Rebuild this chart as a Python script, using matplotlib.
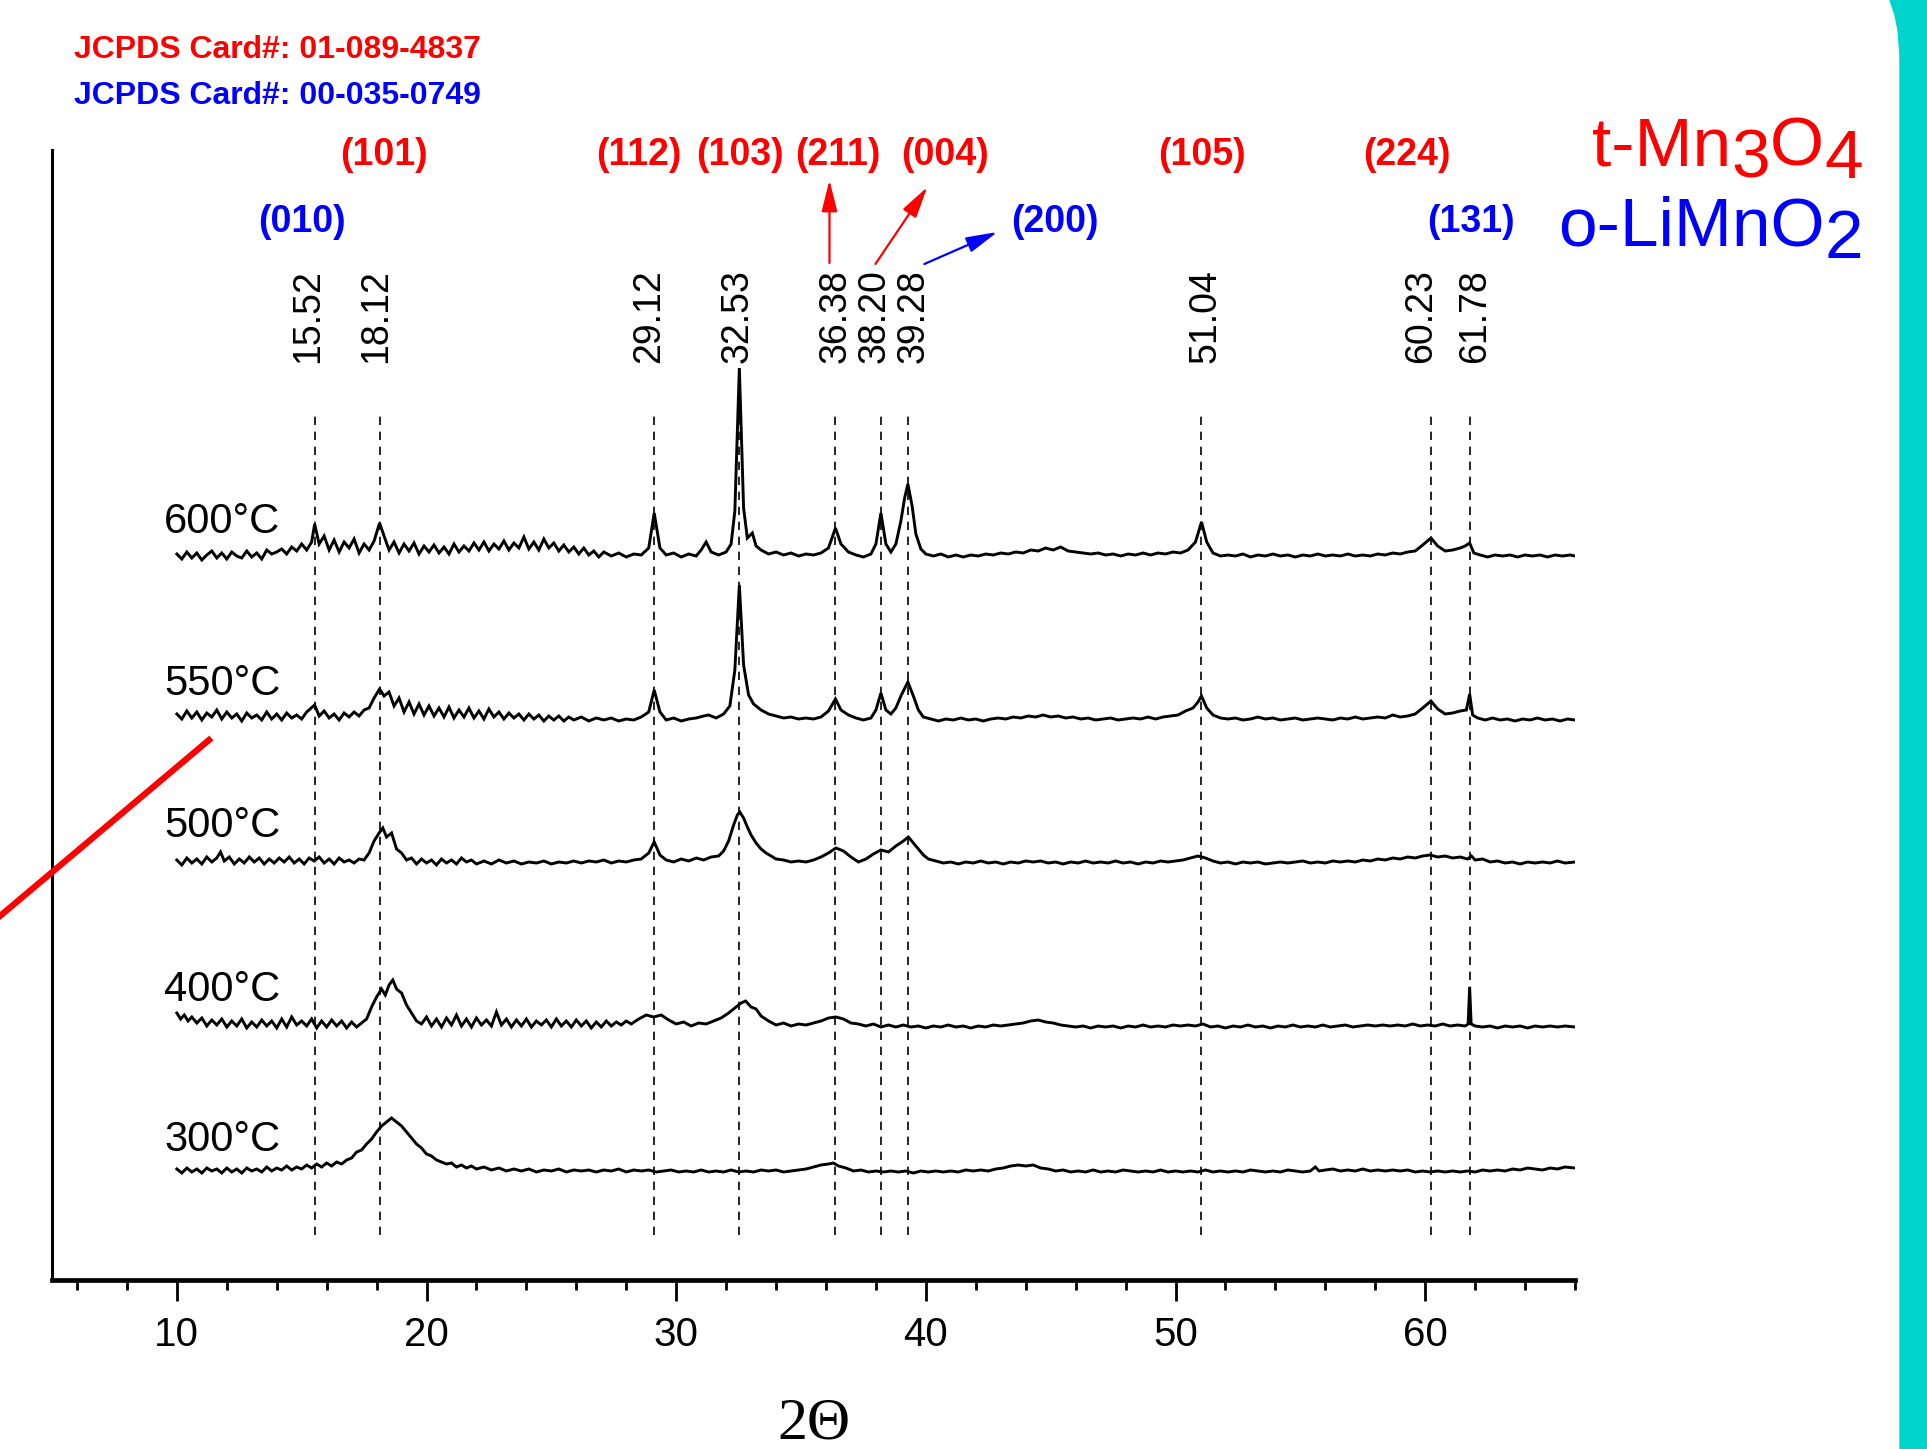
import numpy as np
import matplotlib.pyplot as plt
from matplotlib.patches import Polygon
from matplotlib.lines import Line2D
from matplotlib.ticker import MultipleLocator

plt.rcParams['font.family'] = ['Liberation Sans', 'DejaVu Sans']

# stacked XRD patterns: (2theta, height above the trace's own baseline)
t300 = [(10.0, 3), (10.2, -1), (10.4, 4), (10.6, 0), (10.8, 3), (11.0, -1), (11.2, 4), (11.4, 1), (11.6, 3),
        (11.8, -1), (12.0, 4), (12.2, 0), (12.4, 3), (12.6, -1), (12.8, 4), (13.0, 1), (13.2, 3), (13.4, 0),
        (13.6, 5), (13.8, 1), (14.0, 4), (14.2, 2), (14.4, 6), (14.6, 2), (14.8, 5), (15.0, 3), (15.2, 7),
        (15.4, 4), (15.6, 8), (15.8, 5), (16.0, 9), (16.2, 6), (16.4, 10), (16.6, 8), (16.8, 12), (17.0, 14),
        (17.2, 20), (17.4, 22), (17.6, 28), (17.8, 33), (18.0, 40), (18.2, 46), (18.4, 50), (18.6, 54),
        (18.8, 50), (19.0, 46), (19.2, 40), (19.4, 34), (19.6, 28), (19.8, 24), (20.0, 18), (20.2, 16),
        (20.4, 12), (20.6, 10), (20.8, 8), (21.0, 9), (21.2, 5), (21.4, 7), (21.6, 4), (21.8, 6), (22.0, 3),
        (22.3, 5), (22.6, 2), (22.9, 4), (23.2, 1), (23.5, 3), (23.8, 1), (24.1, 3), (24.4, 0), (24.7, 2),
        (25.0, 1), (25.3, 3), (25.6, 0), (25.9, 2), (26.2, 1), (26.5, 2), (26.8, 0), (27.1, 2), (27.4, 1),
        (27.7, 3), (28.0, 0), (28.3, 2), (28.6, 1), (28.9, 2), (29.2, 0), (29.5, 1), (29.8, 2), (30.1, 0),
        (30.4, 1), (30.7, 0), (31.0, 2), (31.3, 0), (31.6, 1), (31.9, 0), (32.2, 2), (32.5, 0), (32.8, 1),
        (33.1, 0), (33.4, 2), (33.7, 1), (34.0, 2), (34.3, 0), (34.6, 1), (34.9, 2), (35.2, 3), (35.5, 5),
        (35.8, 7), (36.1, 8), (36.3, 9), (36.5, 6), (36.8, 4), (37.1, 1), (37.4, 2), (37.7, 0), (38.0, 1),
        (38.3, 0), (38.6, 1), (38.9, 0), (39.2, 1), (39.5, -1), (39.8, 1), (40.1, 0), (40.4, 1), (40.7, 0),
        (41.0, 1), (41.3, 0), (41.6, 2), (41.9, 1), (42.2, 2), (42.5, 1), (42.8, 3), (43.1, 4), (43.4, 6),
        (43.7, 7), (44.0, 6), (44.3, 7), (44.6, 4), (44.9, 3), (45.2, 1), (45.5, 2), (45.8, 0), (46.1, 1),
        (46.4, 0), (46.7, 2), (47.0, 0), (47.3, 1), (47.6, 0), (47.9, 2), (48.2, 1), (48.5, 0), (48.8, 1),
        (49.1, 0), (49.4, 2), (49.7, 0), (50.0, 1), (50.3, 0), (50.6, 1), (50.9, 0), (51.2, 2), (51.5, 0),
        (51.8, 1), (52.1, 0), (52.4, 1), (52.7, 0), (53.0, 2), (53.3, 1), (53.6, 0), (53.9, 1), (54.2, 0),
        (54.5, 2), (54.8, 1), (55.1, 0), (55.4, 1), (55.6, 5), (55.75, 1), (56.0, 2), (56.3, 3), (56.6, 1),
        (56.9, 2), (57.2, 1), (57.5, 3), (57.8, 1), (58.1, 2), (58.4, 1), (58.7, 2), (59.0, 1), (59.3, 2),
        (59.6, 0), (59.9, 1), (60.2, 0), (60.5, 1), (60.8, 0), (61.1, 1), (61.4, 0), (61.7, 1), (62.0, 0),
        (62.3, 2), (62.6, 1), (62.9, 2), (63.2, 1), (63.5, 3), (63.8, 2), (64.1, 4), (64.4, 3), (64.7, 2),
        (65.0, 4), (65.3, 3), (65.6, 5), (66.0, 4)]

t400 = [(10.0, 14), (10.15, 8), (10.3, 12), (10.45, 6), (10.6, 10), (10.8, 4), (11.0, 9), (11.2, 1), (11.4, 7),
        (11.6, 2), (11.8, 8), (12.0, 0), (12.2, 6), (12.4, 1), (12.6, 8), (12.8, -1), (13.0, 5), (13.2, 0),
        (13.4, 7), (13.6, 1), (13.8, 6), (14.0, -1), (14.2, 8), (14.4, 0), (14.6, 10), (14.8, 2), (15.0, 6),
        (15.2, 1), (15.4, 8), (15.6, -1), (15.8, 6), (16.0, 0), (16.2, 7), (16.4, 1), (16.6, 6), (16.8, -1),
        (17.0, 5), (17.2, 0), (17.4, 4), (17.6, 8), (17.8, 20), (18.0, 30), (18.2, 38), (18.35, 32),
        (18.5, 42), (18.65, 47), (18.8, 38), (19.0, 34), (19.2, 22), (19.4, 14), (19.6, 6), (19.8, 3),
        (20.0, 10), (20.2, 1), (20.4, 8), (20.6, 0), (20.8, 9), (21.0, 2), (21.2, 12), (21.4, 1), (21.6, 8),
        (21.8, 0), (22.0, 9), (22.2, 2), (22.4, 7), (22.6, 1), (22.8, 15), (23.0, 2), (23.2, 8), (23.4, 0),
        (23.6, 7), (23.8, 1), (24.0, 8), (24.2, 0), (24.4, 6), (24.6, 2), (24.8, 7), (25.0, 0), (25.2, 8),
        (25.4, 1), (25.6, 6), (25.8, 0), (26.0, 7), (26.2, 1), (26.4, 6), (26.6, -1), (26.8, 5), (27.0, 0),
        (27.2, 6), (27.4, 1), (27.6, 5), (27.8, 2), (28.0, 6), (28.2, 3), (28.5, 8), (28.8, 12), (29.1, 10),
        (29.4, 12), (29.7, 7), (30.0, 3), (30.3, 5), (30.6, 1), (30.9, 4), (31.2, 3), (31.5, 6), (31.8, 9),
        (32.1, 14), (32.4, 20), (32.6, 24), (32.78, 26), (33.0, 20), (33.2, 18), (33.4, 11), (33.7, 6),
        (34.0, 2), (34.3, 4), (34.6, 1), (34.9, 3), (35.2, 2), (35.5, 4), (35.8, 6), (36.1, 9), (36.4, 10),
        (36.7, 8), (37.0, 4), (37.3, 3), (37.6, 1), (37.9, 3), (38.2, 0), (38.5, 2), (38.8, 0), (39.1, 2),
        (39.4, 0), (39.7, 1), (40.0, -1), (40.3, 1), (40.6, 0), (40.9, 2), (41.2, 0), (41.5, 1), (41.8, -1),
        (42.1, 1), (42.4, 0), (42.7, 2), (43.0, 1), (43.3, 2), (43.6, 3), (43.9, 4), (44.2, 6), (44.5, 7),
        (44.8, 5), (45.1, 4), (45.4, 2), (45.7, 1), (46.0, 0), (46.3, 1), (46.6, -1), (46.9, 1), (47.2, 0),
        (47.5, 1), (47.8, -1), (48.1, 1), (48.4, 0), (48.7, 2), (49.0, 0), (49.3, 1), (49.6, 0), (49.9, 2),
        (50.2, 1), (50.5, 2), (50.8, 1), (51.1, 3), (51.4, 0), (51.7, 1), (52.0, -1), (52.3, 1), (52.6, 0),
        (52.9, 2), (53.2, 0), (53.5, 1), (53.8, -1), (54.1, 1), (54.4, 0), (54.7, 2), (55.0, 0), (55.3, 1),
        (55.6, 0), (55.9, 2), (56.2, 0), (56.5, 1), (56.8, 2), (57.1, 0), (57.4, 1), (57.7, 2), (58.0, 1),
        (58.3, 2), (58.6, 1), (58.9, 2), (59.2, 1), (59.5, 3), (59.8, 1), (60.1, 2), (60.4, 1), (60.7, 3),
        (61.0, 1), (61.3, 2), (61.6, 1), (61.72, 3), (61.78, 40), (61.84, 3), (62.0, 1), (62.3, 0), (62.6, 1),
        (62.9, -1), (63.2, 1), (63.5, 0), (63.8, 1), (64.1, -1), (64.4, 1), (64.7, 0), (65.0, 1), (65.3, 0),
        (65.6, 1), (66.0, 0)]

t500 = [(10.0, 3), (10.2, -2), (10.4, 5), (10.6, 0), (10.8, 4), (11.0, -1), (11.2, 6), (11.4, 1), (11.6, 5),
        (11.75, 11), (11.9, 2), (12.1, 6), (12.3, -1), (12.5, 4), (12.7, 0), (12.9, 6), (13.1, 1), (13.3, 5),
        (13.5, -1), (13.7, 4), (13.9, 0), (14.1, 5), (14.3, 1), (14.5, 6), (14.7, 0), (14.9, 4), (15.1, -1),
        (15.3, 5), (15.5, 2), (15.7, 6), (15.9, 0), (16.1, 4), (16.3, -1), (16.5, 5), (16.7, 1), (16.9, 3),
        (17.1, 0), (17.3, 4), (17.5, 3), (17.7, 10), (17.9, 22), (18.1, 30), (18.25, 35), (18.4, 26),
        (18.6, 30), (18.8, 14), (19.0, 10), (19.2, 3), (19.4, 5), (19.6, -1), (19.8, 4), (20.0, 0), (20.2, 3),
        (20.4, -2), (20.6, 4), (20.8, 0), (21.0, 3), (21.2, -1), (21.4, 5), (21.6, 1), (21.8, 3), (22.0, -1),
        (22.3, 2), (22.6, -1), (22.9, 3), (23.2, 0), (23.5, 2), (23.8, -1), (24.1, 1), (24.4, 0), (24.7, 2),
        (25.0, -1), (25.3, 1), (25.6, 0), (25.9, 2), (26.2, 0), (26.5, 2), (26.8, 1), (27.1, 3), (27.4, 0),
        (27.7, 2), (28.0, 1), (28.3, 3), (28.6, 4), (28.9, 10), (29.12, 21), (29.35, 8), (29.6, 3), (29.9, 1),
        (30.2, 4), (30.5, 2), (30.8, 5), (31.1, 3), (31.4, 6), (31.7, 7), (31.9, 12), (32.1, 22), (32.3, 38),
        (32.45, 48), (32.55, 51), (32.7, 45), (32.85, 36), (33.0, 28), (33.2, 20), (33.4, 14), (33.6, 10),
        (33.8, 7), (34.0, 4), (34.3, 3), (34.6, 1), (34.9, 2), (35.2, 1), (35.5, 3), (35.8, 6), (36.1, 10),
        (36.4, 15), (36.7, 12), (37.0, 6), (37.3, 1), (37.6, 4), (37.9, 9), (38.2, 13), (38.5, 11), (38.8, 17),
        (39.1, 22), (39.3, 26), (39.5, 20), (39.7, 14), (39.9, 8), (40.1, 4), (40.4, 2), (40.7, 0), (41.0, 1),
        (41.3, -1), (41.6, 1), (41.9, 0), (42.2, 2), (42.5, 0), (42.8, 1), (43.1, -1), (43.4, 1), (43.7, 0),
        (44.0, 2), (44.3, 1), (44.6, 2), (44.9, 0), (45.2, 1), (45.5, -1), (45.8, 1), (46.1, 0), (46.4, 2),
        (46.7, 0), (47.0, 1), (47.3, 0), (47.6, 2), (47.9, 0), (48.2, 1), (48.5, -1), (48.8, 1), (49.1, 0),
        (49.4, 2), (49.7, 1), (50.0, 2), (50.3, 3), (50.6, 5), (50.9, 7), (51.2, 5), (51.5, 2), (51.8, 0),
        (52.1, 1), (52.4, -1), (52.7, 1), (53.0, 0), (53.3, 1), (53.6, -1), (53.9, 0), (54.2, 1), (54.5, 0),
        (54.8, 1), (55.1, 2), (55.4, 0), (55.7, 1), (56.0, 0), (56.3, 2), (56.6, 1), (56.9, 2), (57.2, 1),
        (57.5, 3), (57.8, 2), (58.1, 4), (58.4, 3), (58.7, 5), (59.0, 4), (59.3, 6), (59.6, 5), (59.9, 7),
        (60.2, 8), (60.5, 6), (60.8, 7), (61.1, 5), (61.4, 6), (61.7, 4), (61.85, 7), (62.0, 3), (62.3, 4),
        (62.6, 1), (62.9, 2), (63.2, 0), (63.5, 1), (63.8, -1), (64.1, 1), (64.4, 0), (64.7, 1), (65.0, 0),
        (65.3, 2), (65.6, 0), (66.0, 1)]

t550 = [(10.0, 6), (10.2, 1), (10.4, 9), (10.6, 2), (10.8, 8), (11.0, 0), (11.2, 7), (11.4, 3), (11.6, 10),
        (11.8, 1), (12.0, 8), (12.2, 2), (12.4, 6), (12.6, -1), (12.8, 7), (13.0, 2), (13.2, 5), (13.4, 0),
        (13.6, 8), (13.8, 1), (14.0, 6), (14.2, 0), (14.4, 7), (14.6, 2), (14.8, 5), (15.0, 1), (15.2, 8),
        (15.52, 15), (15.7, 4), (15.9, 9), (16.1, 2), (16.3, 6), (16.5, 0), (16.7, 7), (16.9, 3), (17.1, 8),
        (17.3, 4), (17.5, 10), (17.7, 12), (17.9, 22), (18.12, 31), (18.3, 24), (18.5, 28), (18.7, 14),
        (18.9, 22), (19.1, 8), (19.3, 18), (19.5, 6), (19.7, 16), (19.9, 5), (20.1, 14), (20.3, 4), (20.5, 12),
        (20.7, 3), (20.9, 13), (21.1, 2), (21.3, 10), (21.5, 3), (21.7, 12), (21.9, 2), (22.1, 9), (22.3, 1),
        (22.5, 11), (22.7, 3), (22.9, 8), (23.1, 1), (23.3, 7), (23.5, 2), (23.7, 6), (23.9, 0), (24.1, 6),
        (24.3, 1), (24.5, 5), (24.7, -1), (24.9, 4), (25.1, 0), (25.3, 4), (25.5, -1), (25.7, 3), (25.9, 0),
        (26.2, 3), (26.5, -1), (26.8, 2), (27.1, 0), (27.4, 2), (27.7, -1), (28.0, 1), (28.3, 0), (28.6, 3),
        (28.9, 8), (29.12, 30), (29.35, 8), (29.6, 0), (29.9, 2), (30.2, -1), (30.5, 1), (30.8, 2), (31.1, 4),
        (31.3, 5), (31.6, 2), (31.9, 6), (32.15, 14), (32.35, 50), (32.53, 135), (32.7, 55), (32.9, 25),
        (33.1, 16), (33.4, 10), (33.7, 6), (34.0, 4), (34.3, 2), (34.6, 3), (34.9, 1), (35.2, 2), (35.5, 1),
        (35.8, 3), (36.1, 9), (36.38, 21), (36.6, 10), (36.9, 5), (37.2, 2), (37.5, 0), (37.8, 2), (38.0, 10),
        (38.2, 27), (38.4, 10), (38.6, 6), (38.8, 12), (39.0, 24), (39.28, 38), (39.5, 24), (39.7, 10),
        (39.9, 3), (40.2, 1), (40.5, -1), (40.8, 1), (41.1, 0), (41.4, 2), (41.7, 0), (42.0, 1), (42.3, -1),
        (42.6, 1), (42.9, 2), (43.2, 1), (43.5, 3), (43.8, 2), (44.1, 4), (44.4, 3), (44.7, 5), (45.0, 3),
        (45.3, 4), (45.6, 2), (45.9, 3), (46.2, 1), (46.5, 2), (46.8, 0), (47.1, 1), (47.4, 2), (47.7, 0),
        (48.0, 1), (48.3, 2), (48.6, 1), (48.9, 3), (49.2, 1), (49.5, 3), (49.8, 4), (50.1, 5), (50.4, 9),
        (50.7, 12), (50.9, 18), (51.04, 24), (51.25, 12), (51.5, 5), (51.8, 2), (52.1, 1), (52.4, 2),
        (52.7, 0), (53.0, 1), (53.3, 3), (53.6, 1), (53.9, 2), (54.2, 0), (54.5, 1), (54.8, 2), (55.1, 0),
        (55.4, 1), (55.7, 2), (56.0, 1), (56.3, 0), (56.6, 2), (56.9, 1), (57.2, 3), (57.5, 1), (57.8, 2),
        (58.1, 3), (58.4, 2), (58.7, 5), (59.0, 3), (59.3, 4), (59.6, 6), (59.9, 12), (60.23, 19), (60.5, 11),
        (60.8, 6), (61.1, 7), (61.4, 9), (61.65, 10), (61.78, 26), (61.9, 5), (62.1, 2), (62.4, 0), (62.7, 2),
        (63.0, 0), (63.3, 1), (63.6, -1), (63.9, 1), (64.2, 0), (64.5, 2), (64.8, 0), (65.1, 1), (65.4, -1),
        (65.7, 1), (66.0, 0)]

t600 = [(10.0, 2), (10.2, -3), (10.4, 4), (10.6, -2), (10.8, 3), (11.0, -4), (11.2, 1), (11.4, 5), (11.6, -2),
        (11.8, 3), (12.0, -3), (12.2, 4), (12.4, 0), (12.6, -2), (12.8, 5), (13.0, -1), (13.2, 3), (13.4, -3),
        (13.6, 6), (13.8, 2), (14.0, 4), (14.2, 7), (14.4, 2), (14.6, 9), (14.8, 5), (15.0, 12), (15.2, 6),
        (15.4, 14), (15.52, 32), (15.7, 12), (15.9, 20), (16.1, 6), (16.3, 16), (16.5, 4), (16.7, 14),
        (16.9, 8), (17.1, 17), (17.3, 3), (17.5, 12), (17.7, 6), (17.9, 15), (18.12, 33), (18.3, 20),
        (18.5, 6), (18.7, 14), (18.9, 3), (19.1, 12), (19.3, 5), (19.5, 13), (19.7, 2), (19.9, 10), (20.1, 4),
        (20.3, 11), (20.5, 3), (20.7, 9), (20.9, 2), (21.1, 12), (21.3, 4), (21.5, 10), (21.7, 5), (21.9, 13),
        (22.1, 6), (22.3, 14), (22.5, 5), (22.7, 12), (22.9, 7), (23.1, 15), (23.3, 6), (23.5, 13), (23.7, 8),
        (23.9, 19), (24.1, 7), (24.3, 14), (24.5, 6), (24.7, 17), (24.9, 8), (25.1, 13), (25.3, 5), (25.5, 11),
        (25.7, 4), (25.9, 9), (26.1, 2), (26.3, 8), (26.5, 1), (26.7, 5), (26.9, -1), (27.1, 4), (27.4, 0),
        (27.7, 3), (28.0, -1), (28.3, 2), (28.6, 1), (28.9, 8), (29.12, 43), (29.35, 8), (29.6, 1), (29.9, 3),
        (30.2, -1), (30.5, 2), (30.8, 0), (31.0, 6), (31.2, 14), (31.4, 4), (31.7, 1), (32.0, 4), (32.2, 12),
        (32.35, 45), (32.53, 188), (32.7, 48), (32.85, 18), (33.05, 23), (33.2, 10), (33.4, 6), (33.7, 2),
        (34.0, 4), (34.3, 1), (34.6, 3), (34.9, 0), (35.2, 2), (35.5, 1), (35.8, 3), (36.1, 8), (36.38, 28),
        (36.6, 12), (36.9, 4), (37.2, 1), (37.5, -1), (37.8, 2), (38.0, 12), (38.2, 43), (38.4, 12), (38.6, 4),
        (38.8, 12), (39.0, 35), (39.15, 58), (39.28, 72), (39.45, 50), (39.6, 22), (39.8, 7), (40.0, 2),
        (40.3, 0), (40.6, 2), (40.9, -1), (41.2, 1), (41.5, -1), (41.8, 1), (42.1, 0), (42.4, 2), (42.7, 1),
        (43.0, 3), (43.3, 2), (43.6, 4), (43.9, 3), (44.2, 6), (44.5, 5), (44.8, 8), (45.1, 6), (45.4, 9),
        (45.7, 5), (46.0, 4), (46.3, 3), (46.6, 2), (46.9, 3), (47.2, 1), (47.5, 2), (47.8, 0), (48.1, 2),
        (48.4, 1), (48.7, 3), (49.0, 1), (49.3, 3), (49.6, 2), (49.9, 4), (50.2, 3), (50.5, 6), (50.8, 14),
        (51.04, 34), (51.25, 14), (51.5, 3), (51.8, 0), (52.1, 1), (52.4, 0), (52.7, 2), (53.0, -1), (53.3, 1),
        (53.6, 0), (53.9, 2), (54.2, 0), (54.5, 1), (54.8, -1), (55.1, 1), (55.4, 0), (55.7, 2), (56.0, 0),
        (56.3, 1), (56.6, 0), (56.9, 2), (57.2, 0), (57.5, 1), (57.8, 0), (58.1, 2), (58.4, 1), (58.7, 3),
        (59.0, 2), (59.3, 4), (59.6, 5), (59.9, 11), (60.23, 18), (60.5, 10), (60.8, 5), (61.1, 6), (61.4, 8),
        (61.6, 10), (61.78, 13), (61.95, 3), (62.2, 1), (62.5, -1), (62.8, 1), (63.1, 0), (63.4, 1), (63.7, -1),
        (64.0, 1), (64.3, 0), (64.6, 1), (64.9, -1), (65.2, 1), (65.5, 0), (65.8, 1), (66.0, 0)]

traces = [t300, t400, t500, t550, t600]
temps = ['300°C', '400°C', '500°C', '550°C', '600°C']
offsets = [108, 253, 417, 560, 724]
temp_label_y = [129, 279, 443, 585, 747]

peaks = [15.52, 18.12, 29.12, 32.53, 36.38, 38.20, 39.28, 51.04, 60.23, 61.78]
peak_label_x = [15.26, 18.0, 28.9, 32.46, 36.38, 37.94, 39.52, 51.22, 59.84, 61.98]

red_hkl = ['(101)', '(112)', '(103)', '(211)', '(004)', '(105)', '(224)']
red_x = [18.29, 28.5, 32.54, 36.46, 40.78, 51.07, 59.28]
blue_hkl = ['(010)', '(200)', '(131)']
blue_x = [15.0, 45.15, 61.84]

W, H = 1927, 1449
fig = plt.figure(figsize=(W / 100, H / 100), dpi=100)
fig.patch.set_facecolor('white')
ax = fig.add_axes([52 / W, 1 - 1280 / H, (1575 - 52) / W, (1280 - 150) / H])

for pts, off in zip(traces, offsets):
    x, h = np.array(pts).T
    ax.plot(x, h + off, color='black', lw=2.1, solid_joinstyle='miter')

for t, ty in zip(temps, temp_label_y):
    ax.text(9.5, ty, t, fontsize=30, ha='left', va='baseline')

for p, lx in zip(peaks, peak_label_x):
    ax.plot([p, p], [45, 868], color='black', lw=1.2, ls=(0, (5, 4)))
    ax.text(lx, 917, '%.2f' % p, rotation=90, fontsize=27, ha='center', va='bottom')

for lab, xp in zip(red_hkl, red_x):
    ax.text(xp, 1115, lab, color='red', fontsize=27, fontweight='bold', ha='center', va='baseline', clip_on=False)
for lab, xp in zip(blue_hkl, blue_x):
    ax.text(xp, 1048, lab, color='blue', fontsize=27, fontweight='bold', ha='center', va='baseline', clip_on=False)

arrows = [((36.14, 1017), (36.14, 1100), 'red'),
          ((37.98, 1016), (40.06, 1093), 'red'),
          ((39.94, 1016), (42.87, 1048), 'blue')]
for start, end, c in arrows:
    ax.annotate('', xy=end, xytext=start,
                arrowprops=dict(arrowstyle='-|>,head_length=0.8,head_width=0.2', color=c, lw=1.6,
                                mutation_scale=24, shrinkA=0, shrinkB=0), annotation_clip=False)

ax.set_xlim(5, 66)
ax.set_ylim(0, 1130)
ax.set_yticks([])
ax.set_xticks(range(10, 61, 10))
ax.xaxis.set_minor_locator(MultipleLocator(2))
ax.tick_params(axis='x', which='major', direction='out', length=15, width=2, pad=11, labelsize=29)
ax.tick_params(axis='x', which='minor', direction='out', length=7.5, width=2)
for s in ['top', 'right']:
    ax.spines[s].set_visible(False)
ax.spines['left'].set_linewidth(2.2)
ax.spines['bottom'].set_linewidth(3.4)
ax.set_xlabel('2Θ', fontfamily='Liberation Serif', fontsize=43)
ax.xaxis.set_label_coords(0.5, -0.104)

fig.text(74 / W, 1 - 50 / H, 'JCPDS Card#: 01-089-4837', color='red', fontsize=23, fontweight='bold', va='center')
fig.text(74 / W, 1 - 96 / H, 'JCPDS Card#: 00-035-0749', color='blue', fontsize=23, fontweight='bold', va='center')


def formula(x_px, base_px, pieces, color):
    renderer = fig.canvas.get_renderer()
    x = x_px
    for s, drop in pieces:
        t = fig.text(x / W, 1 - (base_px + drop) / H, s, color=color, fontsize=50, va='baseline', ha='left')
        x += t.get_window_extent(renderer).width


formula(1592, 165, [('t-Mn', 0), ('3', 13), ('O', 0), ('4', 13)], 'red')
formula(1558, 245, [('o-LiMnO', 0), ('2', 13)], 'blue')

# red slash on the left
fig.add_artist(Line2D([0, 209 / W], [1 - 916 / H, 1 - 740 / H], color='red', lw=4.5, transform=fig.transFigure))

# cyan frame edge on the right
edge = [(1890, 0), (1895, 15), (1898, 30), (1900, 55), (1900, H), (W, H), (W, 0)]
fig.add_artist(Polygon([(x / W, 1 - y / H) for x, y in edge], closed=True, color='#00d4cc',
                       transform=fig.transFigure))

fig.savefig('out.png', dpi=100, facecolor='white')
